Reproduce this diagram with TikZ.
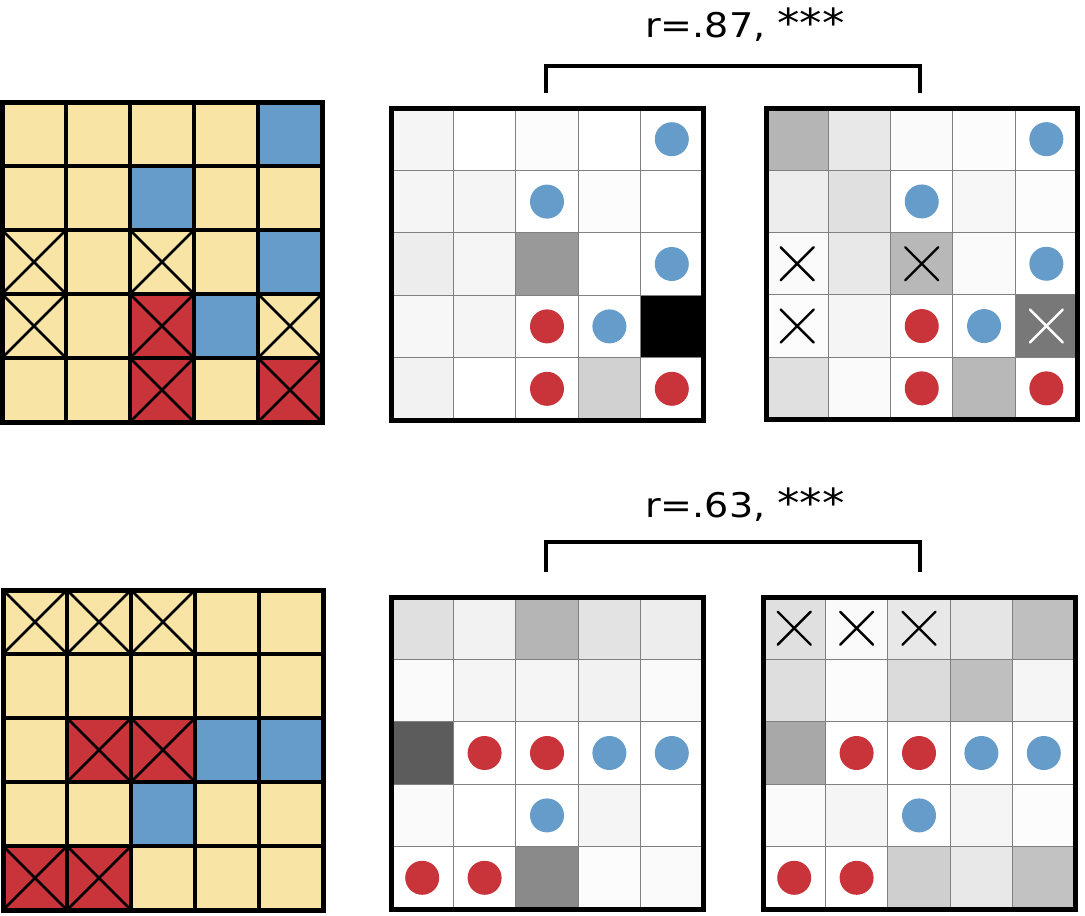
\documentclass[tikz,border=0pt]{standalone}
\usepackage{fontspec}
\setmainfont{DejaVu Sans}
\definecolor{cY}{RGB}{248,228,165}
\definecolor{cB}{RGB}{101,156,201}
\definecolor{cR}{RGB}{200,52,58}
\tikzset{
  outerline/.style={line width=5pt, line join=miter},
  cellline/.style={line width=4.5pt},
  diagline/.style={line width=2.6pt},
  thinline/.style={line width=1pt, draw=black!50},
  xmark/.style={line width=2.4pt, line cap=round},
  dot/.style={circle, inner sep=0pt, minimum size=34pt},
  bracketline/.style={line width=4pt, line cap=butt, line join=miter},
  lab/.style={font=\fontsize{34}{34}\selectfont, inner sep=0pt, anchor=base}
}
% colored grid: x0, y0, cell size, list of colour/cross
\newcommand\colgrid[4]{%
  \begin{scope}[shift={(#1,#2)}]
    \foreach \c/\k [count=\i from 0] in {#4} {
      \pgfmathtruncatemacro\col{mod(\i,5)}
      \pgfmathtruncatemacro\row{(\i-\col)/5}
      \fill[c\c] (\col*#3,\row*#3) rectangle ++(#3,#3);
      \ifnum\k=1
        \draw[diagline] (\col*#3,\row*#3) -- ++(#3,#3);
        \draw[diagline] (\col*#3+#3,\row*#3) -- ++(-#3,#3);
      \fi
    }
    \foreach \j in {1,...,4} {
      \draw[cellline] (\j*#3,0) -- (\j*#3,5*#3);
      \draw[cellline] (0,\j*#3) -- (5*#3,\j*#3);
    }
    \draw[outerline] (0,0) rectangle (5*#3,5*#3);
  \end{scope}}
% gray grid: x0, y0, cell size, list of percent-black/marker
\newcommand\grygrid[4]{%
  \begin{scope}[shift={(#1,#2)}]
    \foreach \v/\m [count=\i from 0] in {#4} {
      \pgfmathtruncatemacro\col{mod(\i,5)}
      \pgfmathtruncatemacro\row{(\i-\col)/5}
      \fill[black!\v] (\col*#3,\row*#3) rectangle ++(#3,#3);
    }
    \foreach \j in {1,...,4} {
      \draw[thinline] (\j*#3,0) -- (\j*#3,5*#3);
      \draw[thinline] (0,\j*#3) -- (5*#3,\j*#3);
    }
    \foreach \v/\m [count=\i from 0] in {#4} {
      \pgfmathtruncatemacro\col{mod(\i,5)}
      \pgfmathtruncatemacro\row{(\i-\col)/5}
      \coordinate (ctr) at (\col*#3+0.5*#3,\row*#3+0.5*#3);
      \if\m b \node[dot, fill=cB] at (ctr) {};\fi
      \if\m r \node[dot, fill=cR] at (ctr) {};\fi
      \if\m x \draw[xmark] ([shift={(-16.5,-16.5)}]ctr) -- ([shift={(16.5,16.5)}]ctr)
                            ([shift={(-16.5,16.5)}]ctr) -- ([shift={(16.5,-16.5)}]ctr);\fi
      \if\m w \draw[xmark, white] ([shift={(-16.5,-16.5)}]ctr) -- ([shift={(16.5,16.5)}]ctr)
                            ([shift={(-16.5,16.5)}]ctr) -- ([shift={(16.5,-16.5)}]ctr);\fi
    }
    \draw[outerline] (0,0) rectangle (5*#3,5*#3);
  \end{scope}}
\begin{document}
\begin{tikzpicture}[x=1pt,y=-1pt]
\useasboundingbox (0,0) rectangle (1085,916);

% ---------- top row ----------
\colgrid{2}{102}{64}{Y/0,Y/0,Y/0,Y/0,B/0,
  Y/0,Y/0,B/0,Y/0,Y/0,
  Y/1,Y/0,Y/1,Y/0,B/0,
  Y/1,Y/0,R/1,B/0,Y/1,
  Y/0,Y/0,R/1,Y/0,R/1}

\grygrid{391}{108}{62.4}{4/n,0/n,1/n,0/n,0/b,
  4/n,4/n,0/b,1/n,0/n,
  7/n,4/n,40/n,0/n,0/b,
  3/n,4/n,0/r,0/b,100/n,
  5/n,0/n,0/r,18/n,0/r}

\grygrid{766}{108}{62.3}{29/n,9/n,2/n,1/n,0/b,
  7/n,12/n,0/b,3/n,1/n,
  2/x,9/n,28/x,2/n,0/b,
  1/x,4/n,0/r,0/b,53/w,
  12/n,2/n,0/r,28/n,0/r}

\coordinate (b1l) at (546,93);
\coordinate (b1r) at (920,93);
\draw[bracketline] (b1l) -- (b1l |- 0,66) -- (b1r |- 0,66) -- (b1r);
\node[lab] (t1) at (745,37) {\scalebox{1.12}[1]{r=.87, {\fontsize{40}{40}\selectfont ***}}};

% ---------- bottom row ----------
\colgrid{3}{590}{64}{Y/1,Y/1,Y/1,Y/0,Y/0,
  Y/0,Y/0,Y/0,Y/0,Y/0,
  Y/0,R/1,R/1,B/0,B/0,
  Y/0,Y/0,B/0,Y/0,Y/0,
  R/1,R/1,Y/0,Y/0,Y/0}

\grygrid{391}{597}{62.4}{12/n,5/n,29/n,11/n,7/n,
  2/n,4/n,4/n,5/n,2/n,
  64/n,0/r,0/r,0/b,0/b,
  2/n,0/n,0/b,4/n,0/n,
  0/r,0/r,46/n,1/n,2/n}

\grygrid{763}{597}{62.4}{12/x,2/x,9/x,10/n,25/n,
  13/n,1/n,14/n,25/n,4/n,
  34/n,0/r,0/r,0/b,0/b,
  2/n,4/n,0/b,4/n,1/n,
  0/r,0/r,19/n,9/n,24/n}

\coordinate (b2l) at (546,572);
\coordinate (b2r) at (920,572);
\draw[bracketline] (b2l) -- (b2l |- 0,542) -- (b2r |- 0,542) -- (b2r);
\node[lab] (t2) at (745,517) {\scalebox{1.12}[1]{r=.63, {\fontsize{40}{40}\selectfont ***}}};
\end{tikzpicture}
\end{document}
